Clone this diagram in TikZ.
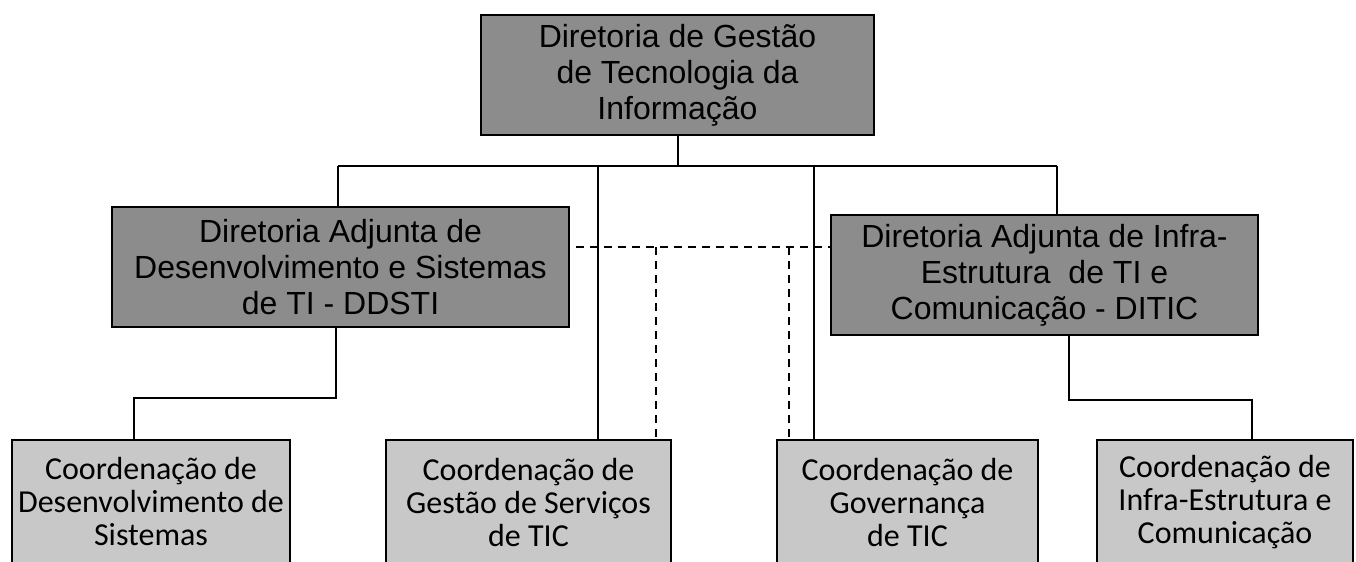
\documentclass[tikz,border=0pt]{standalone}
\usepackage{fontspec}
\setmainfont{Liberation Sans}
\newfontfamily\calibri{Carlito}
\usetikzlibrary{calc}
\definecolor{dirgray}{RGB}{140,140,140}
\definecolor{coordgray}{RGB}{200,200,200}

\begin{document}
\begin{tikzpicture}[x=0.5pt,y=-0.5pt]
\tikzstyle{dirbox}=[
	draw, line width=1pt,
	fill=dirgray,
	align=center, inner sep=0pt,
	minimum height=60pt,
	font=\fontsize{16}{18}\selectfont ]
\tikzstyle{coordbox}=[
	draw, line width=1pt,
	fill=coordgray,
	align=center, inner sep=0pt,
	minimum height=62pt,
	font=\calibri\fontsize{16}{16.5}\selectfont ]
\tikzstyle{link}=[line width=1pt]
\tikzstyle{dashlink}=[line width=0.9pt, dash pattern=on 4pt off 3pt]
\clip (0,0) rectangle (1356,562);
% boxes
\node[dirbox, minimum width=196.5pt] (dgti) at (677.5,75)
	{Diretoria de Gestão\\de Tecnologia da\\Informação};
\node[dirbox, minimum width=228.5pt] (ddsti) at (340.5,267)
	{Diretoria Adjunta de\\Desenvolvimento e Sistemas\\de TI - DDSTI};
\node[dirbox, minimum width=213.5pt] (ditic) at (1044.5,275)
	{Diretoria Adjunta de Infra-\\Estrutura \ de TI e\\Comunicação - DITIC};
\node[coordbox, minimum width=139pt] (cds) at (151,502)
	{Coordenação de\\Desenvolvimento de\\Sistemas};
\node[coordbox, minimum width=142.5pt] (cgs) at (528.5,502)
	{Coordenação de\\Gestão de Serviços\\de TIC};
\node[coordbox, minimum width=130.5pt] (cgov) at (907.5,502)
	{Coordenação de\\Governança\\de TIC};
\node[coordbox, minimum width=128pt] (cie) at (1225,502)
	{Coordenação de\\Infra-Estrutura e\\Comunicação};
% solid links
\coordinate (bus) at ($(dgti.south)+(0,30)$);
\coordinate (p1) at ($(ddsti.north)+(-2.5,0)$);
\coordinate (p2) at ($(cgs.north)+(69.5,0)$);
\coordinate (p3) at ($(cgov.north)+(-93.5,0)$);
\coordinate (p4) at ($(ditic.north)+(12.5,0)$);
\draw[link] (dgti.south) -- (bus);
\draw[link] (p1 |- bus) -- (p4 |- bus);
\foreach \p in {p1,p2,p3,p4}
	\draw[link] (\p |- bus) -- (\p);
\coordinate (q1) at ($(ddsti.south)+(-4.5,0)$);
\coordinate (q1b) at ($(cds.north)+(-17,0)$);
\coordinate (q2) at ($(ditic.south)+(24.5,0)$);
\coordinate (q2b) at ($(cie.north)+(27,0)$);
\draw[link] (q1) -- ++(0,70) -| (q1b);
\draw[link] (q2) -- ++(0,64) -| (q2b);
% dashed links
\coordinate (dl) at ($(ddsti.east)+(6,-20)$);
\coordinate (dr) at ($(ditic.west)+(0,-28)$);
\coordinate (g1) at ($(cgs.north)+(127.5,0)$);
\coordinate (g2) at ($(cgov.north)+(-118.5,0)$);
\draw[dashlink] (dl) -- (dr);
\draw[dashlink] (g1 |- dl) -- (g1);
\draw[dashlink] (g2 |- dl) -- (g2);
\end{tikzpicture}
\end{document}
